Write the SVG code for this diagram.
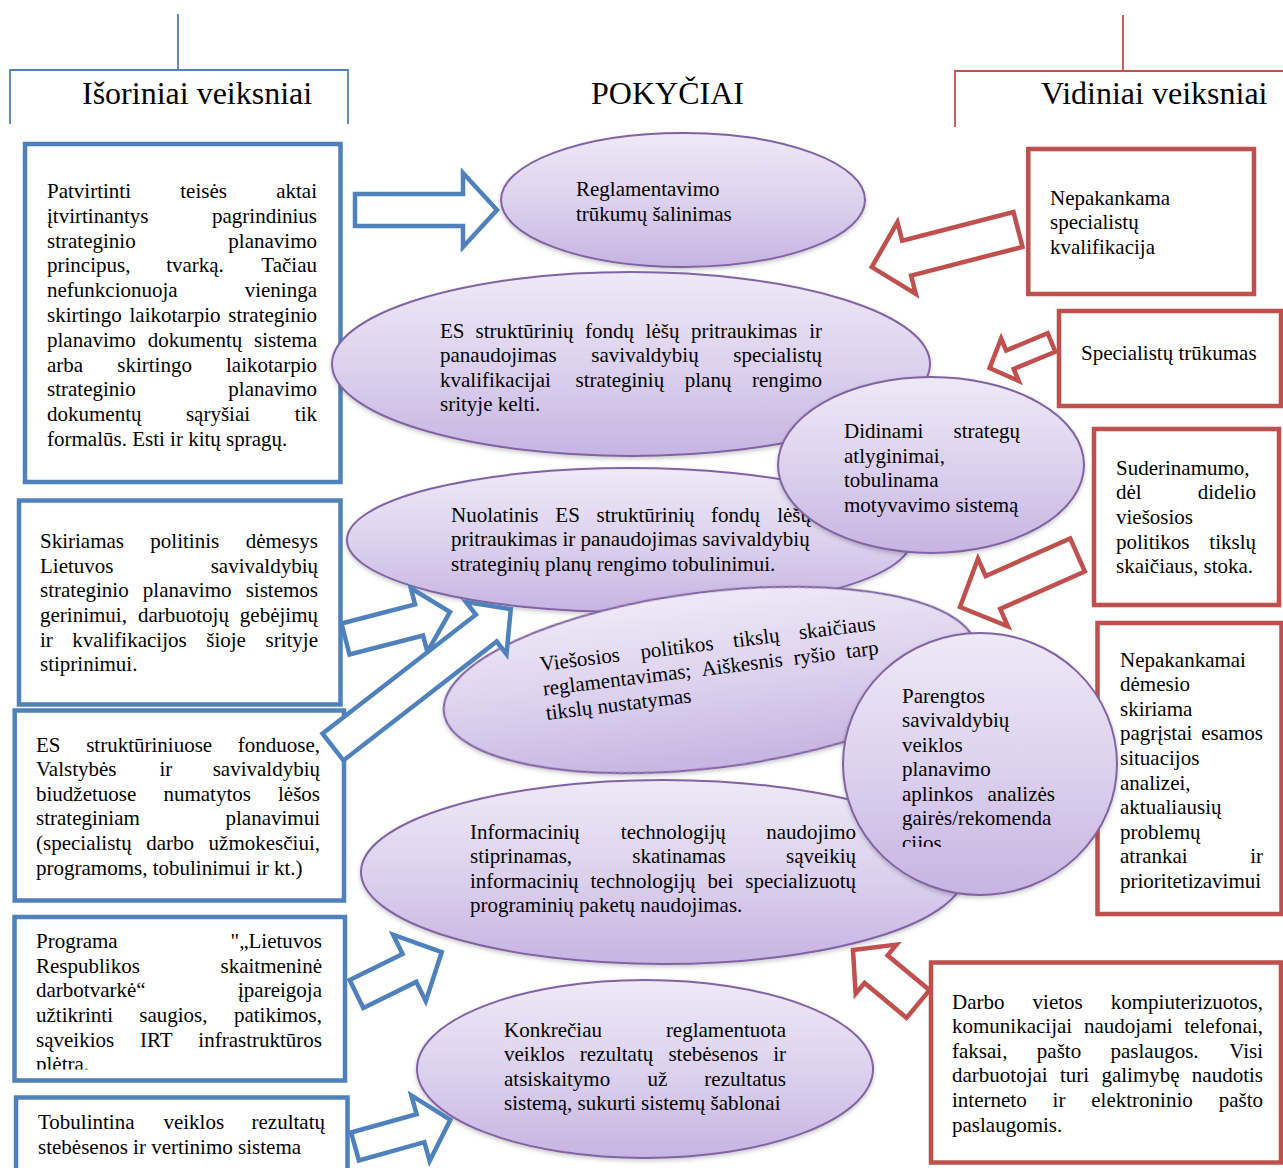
<svg xmlns="http://www.w3.org/2000/svg" width="1283" height="1168" viewBox="0 0 1283 1168">
  <style>
    .t { font-family: "Liberation Serif", "Times New Roman", serif; font-size: 21px; fill: #000; }
    .h { font-size: 32px; }
    .m { text-anchor: middle; }
    .e { text-anchor: end; }
    .bb { fill: #fff; stroke: #4f81bd; stroke-width: 4.5; }
    .rb { fill: #fff; stroke: #c0504d; stroke-width: 4.5; }
    .ba { fill: #fff; stroke: #4f81bd; stroke-width: 4.5; stroke-linejoin: miter; }
    .ra { fill: #fff; stroke: #c0504d; stroke-width: 4.5; stroke-linejoin: miter; }
    .el { fill: url(#lav); stroke: #8064a2; stroke-width: 2; filter: url(#sh); }
    .hb { fill: none; stroke: #4f81bd; stroke-width: 1.8; }
    .hr { fill: none; stroke: #c0504d; stroke-width: 1.8; }
  </style>
  <defs>
    <linearGradient id="lav" x1="0" y1="0" x2="0" y2="1">
      <stop offset="0" stop-color="#eee9f7"/>
      <stop offset="0.5" stop-color="#ddd2ee"/>
      <stop offset="1" stop-color="#c7b4e2"/>
    </linearGradient>
    <filter id="sh" x="-10%" y="-10%" width="120%" height="130%">
      <feDropShadow dx="0" dy="2" stdDeviation="2" flood-color="#000" flood-opacity="0.22"/>
    </filter>
    <clipPath id="clipB4"><rect x="0" y="900" width="360" height="169.5"/></clipPath>
    <clipPath id="clipPar"><rect x="840" y="600" width="300" height="247"/></clipPath>
  </defs>

  <!-- column headers -->
  <g id="header-external">
    <path class="hb" d="M178,14 V70 M10,124 V70 H348 V124"/>
    <text class="t h" x="82" y="104">Išoriniai veiksniai</text>
  </g>
  <g id="header-changes">
    <text class="t h" x="591" y="104">POKYČIAI</text>
  </g>
  <g id="header-internal">
    <path class="hr" d="M1123,15 V71 M955,127 V71 H1283"/>
    <text class="t h" x="1041" y="104">Vidiniai veiksniai</text>
  </g>

  <!-- external factors (left column) -->
  <g id="ext-1" class="t">
    <rect class="bb" x="25" y="144" width="315.5" height="338"/>
    <text x="47" y="198">Patvirtinti</text><text class="m" x="203.6" y="198">teisės</text><text class="e" x="317" y="198">aktai</text>
    <text x="47" y="222.8">įtvirtinantys</text><text class="e" x="317" y="222.8">pagrindinius</text>
    <text x="47" y="247.6">strateginio</text><text class="e" x="317" y="247.6">planavimo</text>
    <text x="47" y="272.4">principus,</text><text class="m" x="195" y="272.4">tvarką.</text><text class="e" x="317" y="272.4">Tačiau</text>
    <text x="47" y="297.2">nefunkcionuoja</text><text class="e" x="317" y="297.2">vieninga</text>
    <text x="47" y="322">skirtingo</text><text class="m" x="175" y="322">laikotarpio</text><text class="e" x="317" y="322">strateginio</text>
    <text x="47" y="346.8">planavimo</text><text class="m" x="195" y="346.8">dokumentų</text><text class="e" x="317" y="346.8">sistema</text>
    <text x="47" y="371.6">arba</text><text class="m" x="154.6" y="371.6">skirtingo</text><text class="e" x="317" y="371.6">laikotarpio</text>
    <text x="47" y="396.4">strateginio</text><text class="e" x="317" y="396.4">planavimo</text>
    <text x="47" y="421.2">dokumentų</text><text class="m" x="218" y="421.2">sąryšiai</text><text class="e" x="317" y="421.2">tik</text>
    <text x="47" y="446">formalūs. Esti ir kitų spragų.</text>
  </g>

  <g id="ext-2" class="t">
    <rect class="bb" x="19" y="500.5" width="321.5" height="204"/>
    <text x="40" y="548">Skiriamas</text><text class="m" x="184.8" y="548">politinis</text><text class="e" x="318" y="548">dėmesys</text>
    <text x="40" y="572.65">Lietuvos</text><text class="e" x="318" y="572.65">savivaldybių</text>
    <text x="40" y="597.3">strateginio</text><text class="m" x="187.2" y="597.3">planavimo</text><text class="e" x="318" y="597.3">sistemos</text>
    <text x="40" y="621.95">gerinimui,</text><text class="m" x="183.4" y="621.95">darbuotojų</text><text class="e" x="318" y="621.95">gebėjimų</text>
    <text x="40" y="646.6">ir</text><text class="m" x="129.5" y="646.6">kvalifikacijos</text><text class="m" x="226.1" y="646.6">šioje</text><text class="e" x="318" y="646.6">srityje</text>
    <text x="40" y="671.25">stiprinimui.</text>
  </g>

  <g id="ext-3" class="t">
    <rect class="bb" x="14.7" y="710.5" width="329.3" height="190"/>
    <text x="36" y="751.5">ES</text><text class="m" x="149.2" y="751.5">struktūriniuose</text><text class="e" x="320" y="751.5">fonduose,</text>
    <text x="36" y="776.15">Valstybės</text><text class="m" x="165.8" y="776.15">ir</text><text class="e" x="320" y="776.15">savivaldybių</text>
    <text x="36" y="800.8">biudžetuose</text><text class="m" x="207.2" y="800.8">numatytos</text><text class="e" x="320" y="800.8">lėšos</text>
    <text x="36" y="825.45">strateginiam</text><text class="e" x="320" y="825.45">planavimui</text>
    <text x="36" y="850.1">(specialistų</text><text class="m" x="170.2" y="850.1">darbo</text><text class="e" x="320" y="850.1">užmokesčiui,</text>
    <text x="36" y="874.75">programoms, tobulinimui ir kt.)</text>
  </g>

  <g id="ext-4" class="t">
    <rect class="bb" x="14.5" y="917" width="330.5" height="163.5"/>
    <g clip-path="url(#clipB4)">
      <text x="36" y="948">Programa</text><text class="e" x="322" y="948">"„Lietuvos</text>
      <text x="36" y="972.65">Respublikos</text><text class="e" x="322" y="972.65">skaitmeninė</text>
      <text x="36" y="997.3">darbotvarkė“</text><text class="e" x="322" y="997.3">įpareigoja</text>
      <text x="36" y="1021.95">užtikrinti</text><text class="m" x="173.4" y="1021.95">saugios,</text><text class="e" x="322" y="1021.95">patikimos,</text>
      <text x="36" y="1046.6">sąveikios</text><text class="m" x="156.3" y="1046.6">IRT</text><text class="e" x="322" y="1046.6">infrastruktūros</text>
      <text x="36" y="1071.25">plėtra.</text>
    </g>
  </g>

  <g id="ext-5" class="t">
    <rect class="bb" x="16" y="1097.5" width="331.5" height="100"/>
    <text x="38" y="1129">Tobulintina</text><text class="m" x="193.8" y="1129">veiklos</text><text class="e" x="325" y="1129">rezultatų</text>
    <text x="38" y="1153.65">stebėsenos ir vertinimo sistema</text>
  </g>

  <!-- internal factors (right column) -->
  <g id="int-1" class="t">
    <rect class="rb" x="1028.3" y="149" width="225.7" height="145"/>
    <text x="1050" y="204.5">Nepakankama</text>
    <text x="1050" y="229.15">specialistų</text>
    <text x="1050" y="253.8">kvalifikacija</text>
  </g>

  <g id="int-2" class="t">
    <rect class="rb" x="1059" y="311" width="222" height="95"/>
    <text x="1081" y="359.5">Specialistų trūkumas</text>
  </g>

  <g id="int-3" class="t">
    <rect class="rb" x="1094" y="429" width="185" height="176"/>
    <text x="1116" y="474.8">Suderinamumo,</text>
    <text x="1116" y="499.45">dėl</text><text class="e" x="1256" y="499.45">didelio</text>
    <text x="1116" y="524.1">viešosios</text>
    <text x="1116" y="548.75">politikos</text><text class="e" x="1256" y="548.75">tikslų</text>
    <text x="1116" y="573.4">skaičiaus, stoka.</text>
  </g>

  <g id="int-4" class="t">
    <rect class="rb" x="1097.5" y="623" width="184" height="291"/>
    <text x="1120" y="666.5">Nepakankamai</text>
    <text x="1120" y="691.1">dėmesio</text>
    <text x="1120" y="715.7">skiriama</text>
    <text x="1120" y="740.3">pagrįstai</text><text class="e" x="1263" y="740.3">esamos</text>
    <text x="1120" y="764.9">situacijos</text>
    <text x="1120" y="789.5">analizei,</text>
    <text x="1120" y="814.1">aktualiausių</text>
    <text x="1120" y="838.7">problemų</text>
    <text x="1120" y="863.3">atrankai</text><text class="e" x="1263" y="863.3">ir</text>
    <text x="1120" y="887.9">prioritetizavimui</text>
  </g>

  <g id="int-5" class="t">
    <rect class="rb" x="931" y="962.5" width="350" height="200"/>
    <text x="952" y="1008.5">Darbo</text><text class="m" x="1057.7" y="1008.5">vietos</text><text class="e" x="1263" y="1008.5">kompiuterizuotos,</text>
    <text x="952" y="1033.15">komunikacijai</text><text class="m" x="1128.3" y="1033.15">naudojami</text><text class="e" x="1263" y="1033.15">telefonai,</text>
    <text x="952" y="1057.8">faksai,</text><text class="m" x="1059" y="1057.8">pašto</text><text class="m" x="1154.6" y="1057.8">paslaugos.</text><text class="e" x="1263" y="1057.8">Visi</text>
    <text x="952" y="1082.45">darbuotojai</text><text class="m" x="1074.5" y="1082.45">turi</text><text class="m" x="1140.5" y="1082.45">galimybę</text><text class="e" x="1263" y="1082.45">naudotis</text>
    <text x="952" y="1107.1">interneto</text><text class="m" x="1059" y="1107.1">ir</text><text class="m" x="1142" y="1107.1">elektroninio</text><text class="e" x="1263" y="1107.1">pašto</text>
    <text x="952" y="1131.75">paslaugomis.</text>
  </g>

  <!-- changes (centre column) -->
  <g id="chg-regulation" class="t">
    <ellipse class="el" cx="683" cy="200" rx="182" ry="67"/>
    <text x="576" y="195.8">Reglamentavimo</text>
    <text x="576" y="220.5">trūkumų šalinimas</text>
  </g>

  <g id="chg-funds" class="t">
    <ellipse class="el" cx="631" cy="364" rx="299" ry="92"/>
    <text x="440" y="337.5">ES</text><text class="m" x="524.5" y="337.5">struktūrinių</text><text class="m" x="609.5" y="337.5">fondų</text><text class="m" x="662.5" y="337.5">lėšų</text><text class="m" x="744.1" y="337.5">pritraukimas</text><text class="e" x="822" y="337.5">ir</text>
    <text x="440" y="362.15">panaudojimas</text><text class="m" x="645" y="362.15">savivaldybių</text><text class="e" x="822" y="362.15">specialistų</text>
    <text x="440" y="386.8">kvalifikacijai</text><text class="m" x="619.9" y="386.8">strateginių</text><text class="m" x="708.1" y="386.8">planų</text><text class="e" x="822" y="386.8">rengimo</text>
    <text x="440" y="411.45">srityje kelti.</text>
  </g>

  <g id="chg-continuous" class="t">
    <ellipse class="el" cx="629" cy="540" rx="282" ry="72"/>
    <text x="451" y="521.5">Nuolatinis</text><text class="m" x="567.6" y="521.5">ES</text><text class="m" x="645.5" y="521.5">struktūrinių</text><text class="m" x="735.5" y="521.5">fondų</text><text class="e" x="811" y="521.5">lėšų</text>
    <text x="451" y="546.15">pritraukimas ir panaudojimas savivaldybių</text>
    <text x="451" y="570.8">strateginių planų rengimo tobulinimui.</text>
  </g>

  <g id="chg-salaries" class="t">
    <ellipse class="el" cx="931" cy="465" rx="153" ry="88"/>
    <text x="844" y="438">Didinami</text><text class="e" x="1020" y="438">strategų</text>
    <text x="844" y="462.65">atlyginimai,</text>
    <text x="844" y="487.3">tobulinama</text>
    <text x="844" y="511.95">motyvavimo sistemą</text>
  </g>

  <g id="chg-policy-goals" class="t" transform="rotate(-7 710 680)">
    <ellipse class="el" cx="710" cy="680" rx="268" ry="88"/>
    <text x="543" y="650.5">Viešosios</text><text class="m" x="681" y="650.5">politikos</text><text class="m" x="761" y="650.5">tikslų</text><text class="e" x="881" y="650.5">skaičiaus</text>
    <text x="543" y="675.15">reglamentavimas;</text><text class="m" x="743.6" y="675.15">Aiškesnis</text><text class="m" x="816.4" y="675.15">ryšio</text><text class="e" x="881" y="675.15">tarp</text>
    <text x="543" y="699.8">tikslų nustatymas</text>
  </g>

  <g id="chg-it" class="t">
    <ellipse class="el" cx="663" cy="872" rx="302" ry="92"/>
    <text x="470" y="838.5">Informacinių</text><text class="m" x="673.3" y="838.5">technologijų</text><text class="e" x="856" y="838.5">naudojimo</text>
    <text x="470" y="863.15">stiprinamas,</text><text class="m" x="679" y="863.15">skatinamas</text><text class="e" x="856" y="863.15">sąveikių</text>
    <text x="470" y="887.8">informacinių</text><text class="m" x="643" y="887.8">technologijų</text><text class="m" x="720.4" y="887.8">bei</text><text class="e" x="856" y="887.8">specializuotų</text>
    <text x="470" y="912.45">programinių paketų naudojimas.</text>
  </g>

  <g id="chg-guidelines" class="t">
    <ellipse class="el" cx="980" cy="764" rx="137" ry="131"/>
    <g clip-path="url(#clipPar)">
      <text x="902" y="702.5">Parengtos</text>
      <text x="902" y="727">savivaldybių</text>
      <text x="902" y="751.5">veiklos</text>
      <text x="902" y="776">planavimo</text>
      <text x="902" y="800.5">aplinkos</text><text class="e" x="1055" y="800.5">analizės</text>
      <text x="902" y="825">gairės/rekomenda</text>
      <text x="902" y="849.5">cijos</text>
    </g>
  </g>

  <g id="chg-monitoring" class="t">
    <ellipse class="el" cx="645" cy="1069" rx="228" ry="89"/>
    <text x="504" y="1036.5">Konkrečiau</text><text class="e" x="786" y="1036.5">reglamentuota</text>
    <text x="504" y="1061.15">veiklos</text><text class="m" x="616.5" y="1061.15">rezultatų</text><text class="m" x="713.3" y="1061.15">stebėsenos</text><text class="e" x="786" y="1061.15">ir</text>
    <text x="504" y="1085.8">atsiskaitymo</text><text class="m" x="657.3" y="1085.8">už</text><text class="e" x="786" y="1085.8">rezultatus</text>
    <text x="504" y="1110.45">sistemą, sukurti sistemų šablonai</text>
  </g>

  <!-- block arrows: each drawn pointing right from its tail, then placed -->
  <g id="connectors">
    <polygon class="ba" transform="translate(355 210)" points="0,-16 108,-16 108,-37 142,0 108,37 108,16 0,16"/>
    <polygon class="ba" transform="translate(345.5 639) rotate(-14.5)" points="0,-16 76,-16 76,-33 108,0 76,33 76,16 0,16"/>
    <polygon class="ba" transform="translate(333 747) rotate(-37.8)" points="0,-17 194,-17 194,-33 225,0 194,33 194,17 0,17"/>
    <polygon class="ba" transform="translate(356.5 994) rotate(-26.2)" points="0,-15.5 59,-15.5 59,-37 95,0 59,37 59,15.5 0,15.5"/>
    <polygon class="ba" transform="translate(355 1146.5) rotate(-15.6)" points="0,-14.5 68,-14.5 68,-34 99,0 68,34 68,14.5 0,14.5"/>
    <polygon class="ra" transform="translate(1018 229.5) rotate(165.6)" points="0,-18 115,-18 115,-37 151,0 115,37 115,18 0,18"/>
    <polygon class="ra" transform="translate(1051.5 342.5) rotate(157.5)" points="0,-10 45,-10 45,-23 67,0 45,23 45,10 0,10"/>
    <polygon class="ra" transform="translate(1077.5 555) rotate(156.1)" points="0,-18 92.5,-18 92.5,-37 128.5,0 92.5,37 92.5,18 0,18"/>
    <polygon class="ra" transform="translate(918 1004) rotate(-140.3)" points="0,-18 54.5,-18 54.5,-32 84.5,0 54.5,32 54.5,18 0,18"/>
  </g>
</svg>
